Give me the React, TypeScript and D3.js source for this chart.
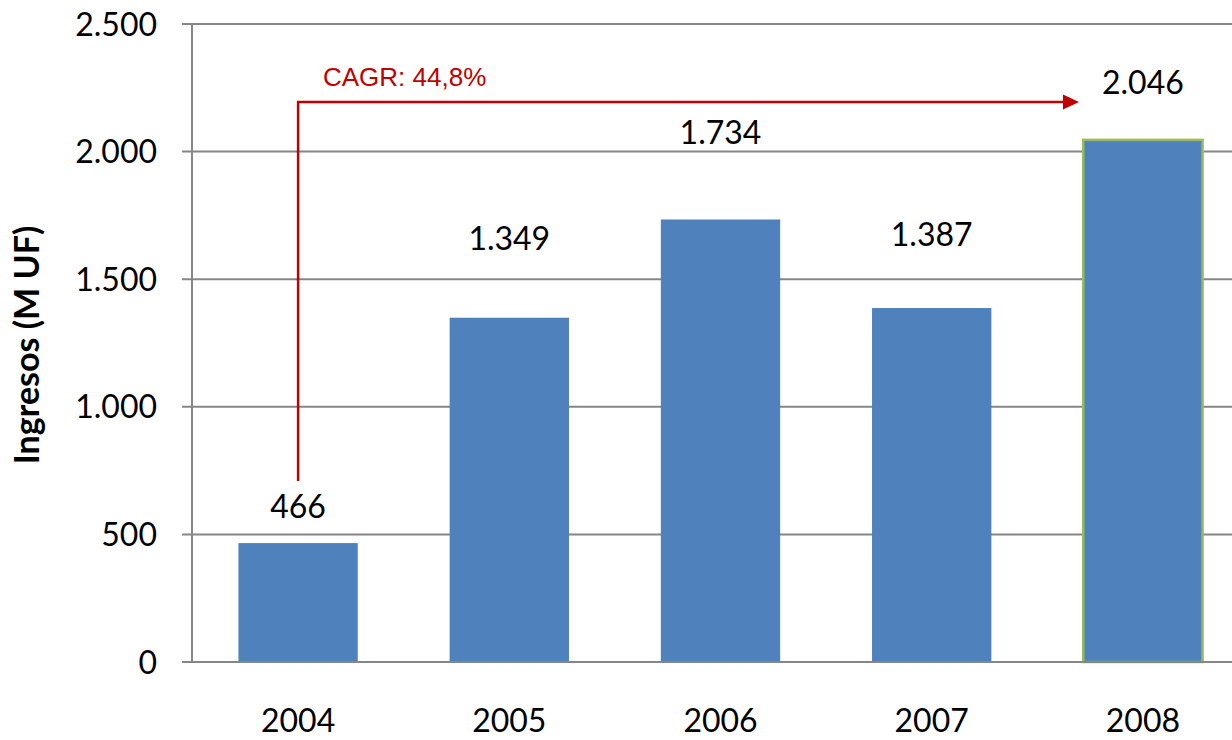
import React from "react";
import * as d3 from "d3";

const categories = ["2004", "2005", "2006", "2007", "2008"];
const values = [466, 1349, 1734, 1387, 2046];
const valueLabels = ["466", "1.349", "1.734", "1.387", "2.046"];
const yTicks = [0, 500, 1000, 1500, 2000, 2500];
const yTickLabels = ["0", "500", "1.000", "1.500", "2.000", "2.500"];
const cagrLabel = "CAGR: 44,8%";
const yTitle = "Ingresos (M UF)";

// layout: label gap above each bar (px), manual placement as in the original
const LABEL_GAPS = [25, 68, 75, 62, 46];

const W = 1232;
const H = 740;
const AXIS_X = 192;
const TOP = 24;
const BOTTOM = 662;

export default function App() {
  const x = d3
    .scaleBand<string>()
    .domain(categories)
    .range([192.5, 1248.5])
    .paddingInner(0.435)
    .paddingOuter(0.2175);
  const y = d3.scaleLinear().domain([0, 2500]).range([BOTTOM, TOP]);
  const grid = "#868686";
  const font = "Lato, Calibri, 'Open Sans', sans-serif";
  const red = "#C00000";

  const arrowX = (x("2004") as number) + x.bandwidth() / 2;
  const arrowY = 102;
  const arrowEnd = 1079;

  return (
    <svg
      width={W}
      height={H}
      style={{ position: "absolute", left: 0, top: 0, background: "#fff" }}
    >
      {/* gridlines + y ticks */}
      {yTicks.map((t, i) => (
        <g key={t}>
          <line x1={182} x2={W} y1={y(t)} y2={y(t)} stroke={grid} strokeWidth={2} />
          <text
            x={157}
            y={y(t)}
            dy="0.36em"
            textAnchor="end"
            fontFamily={font}
            fontSize={32}
            fill="#000"
          >
            {yTickLabels[i]}
          </text>
        </g>
      ))}
      {/* y axis line */}
      <line x1={AXIS_X} x2={AXIS_X} y1={TOP} y2={BOTTOM} stroke={grid} strokeWidth={2} />

      {/* bars */}
      {values.map((v, i) => {
        const c = categories[i];
        const last = i === values.length - 1;
        return (
          <rect
            key={c}
            x={x(c)}
            y={y(v)}
            width={x.bandwidth()}
            height={y(0) - y(v)}
            fill="#4F81BD"
            stroke={last ? "#9BBB59" : "none"}
            strokeWidth={last ? 2.5 : 0}
          />
        );
      })}
      {/* x axis line on top */}
      <line x1={182} x2={W} y1={BOTTOM} y2={BOTTOM} stroke={grid} strokeWidth={2} />

      {/* value labels */}
      {values.map((v, i) => (
        <text
          key={"l" + i}
          x={(x(categories[i]) as number) + x.bandwidth() / 2}
          y={y(v) - LABEL_GAPS[i]}
          textAnchor="middle"
          fontFamily={font}
          fontSize={32}
          fill="#000"
        >
          {valueLabels[i]}
        </text>
      ))}

      {/* x labels */}
      {categories.map((c) => (
        <text
          key={"x" + c}
          x={(x(c) as number) + x.bandwidth() / 2}
          y={732}
          textAnchor="middle"
          fontFamily={font}
          fontSize={32}
          fill="#000"
        >
          {c}
        </text>
      ))}

      {/* y title */}
      <text
        transform={`translate(39, 345) rotate(-90)`}
        textAnchor="middle"
        fontFamily={font}
        fontWeight="bold"
        fontSize={34}
        fill="#000"
      >
        {yTitle}
      </text>

      {/* CAGR arrow */}
      <path
        d={`M${arrowX},481 V${arrowY} H${arrowEnd - 16}`}
        fill="none"
        stroke={red}
        strokeWidth={2.5}
      />
      <path
        d={`M${arrowEnd - 16},${arrowY - 7.5} L${arrowEnd},${arrowY} L${arrowEnd - 16},${arrowY + 7.5} Z`}
        fill={red}
      />
      <text
        x={323}
        y={86}
        fontFamily="'Liberation Sans', Arial, sans-serif"
        fontSize={26}
        fill={red}
      >
        {cagrLabel}
      </text>
    </svg>
  );
}
